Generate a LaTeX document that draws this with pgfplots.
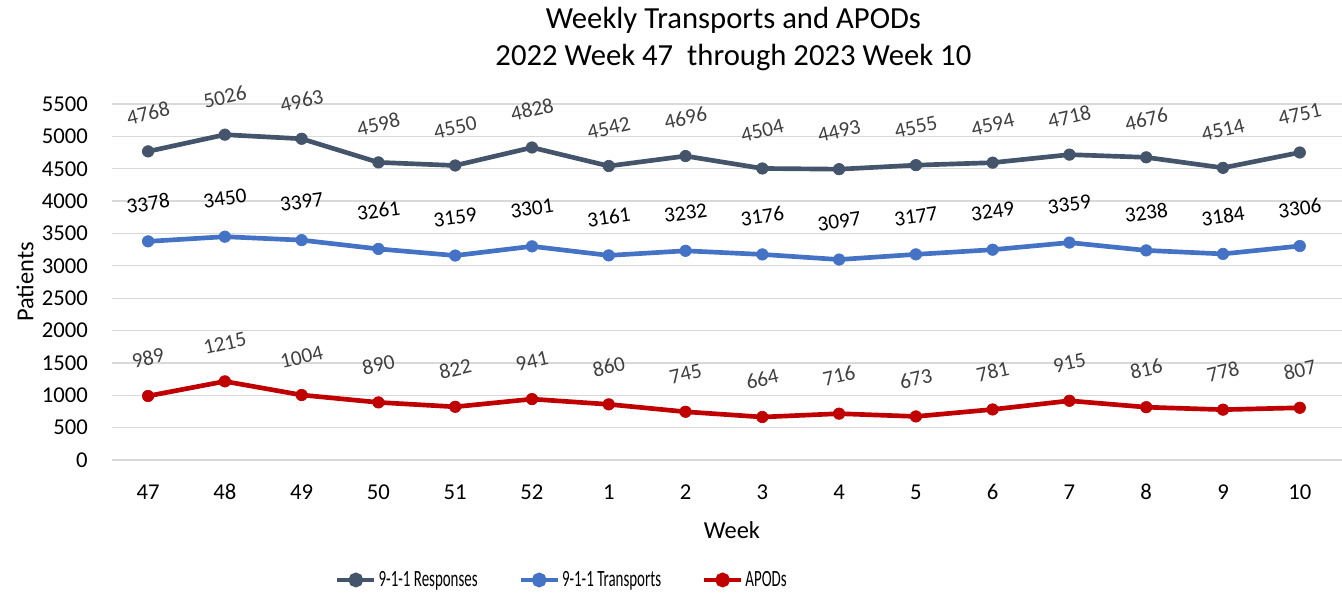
\documentclass[border=0pt]{standalone}
\usepackage{fontspec}
\setmainfont{Carlito}
\newfontfamily\legfont[FakeStretch=0.64]{Carlito}
\usepackage{pgfplots}
\pgfplotsset{compat=1.18}
\definecolor{resp}{HTML}{44546A}
\definecolor{trans}{HTML}{4472C4}
\definecolor{apod}{HTML}{C00000}
\definecolor{lbl}{HTML}{404040}
\definecolor{gridc}{HTML}{D9D9D9}
\begin{document}
\begin{tikzpicture}
\useasboundingbox (-84pt,-102.75pt) rectangle (922.5pt,345pt);
\begin{axis}[
  scale only axis, width=922.5pt, height=267pt,
  at={(0pt,0pt)}, anchor=south west,
  xmin=-0.47, xmax=15.55, ymin=0, ymax=5500,
  clip=false,
  xtick={0,...,15},
  xticklabels={47,48,49,50,51,52,1,2,3,4,5,6,7,8,9,10},
  ytick={0,500,...,5500},
  /pgf/number format/assume math mode=true,
  /pgf/number format/1000 sep={},
  ymajorgrids, major grid style={gridc, line width=0.9pt},
  axis line style={draw=none}, major tick style={draw=none},
  tick label style={font=\fontsize{17}{20}\selectfont, text=black},
  x tick label style={anchor=center, yshift=-24pt},
  y tick label style={anchor=east, inner sep=0pt, xshift=-18pt},
  xlabel={Week}, ylabel={Patients},
  label style={font=\fontsize{18.3}{21}\selectfont},
  xlabel style={at={(axis description cs:0.504,0)}, anchor=center, yshift=-52.5pt},
  ylabel style={at={(axis description cs:-0.0707,0.5)}, anchor=center},
  legend columns=3,
  legend style={draw=none, inner sep=0pt, outer sep=0pt, anchor=west,
    at={(axis description cs:0.1813,-0.337)},
    font=\legfont\fontsize{17.5}{20}\selectfont,
    nodes={inner sep=1.5pt},
    /tikz/every even column/.append style={column sep=29pt}},
  legend image code/.code={%
    \draw[#1, mark=none] (0pt,0pt) -- (27.75pt,0pt);
    \fill[#1] (13.9pt,0pt) circle (3.75pt);},
  every axis plot/.append style={line width=3.5pt, mark=*, mark size=4.3pt,
    mark options={solid, line width=0.5pt}},
  nodes near coords,
  nodes near coords style={font=\fontsize{16}{19}\selectfont, anchor=center, inner sep=0pt},
]
\addplot[resp, every node near coord/.append style={text=lbl, yshift=28.5pt, rotate=13}] coordinates {
(0,4768) (1,5026) (2,4963) (3,4598) (4,4550) (5,4828) (6,4542) (7,4696)
(8,4504) (9,4493) (10,4555) (11,4594) (12,4718) (13,4676) (14,4514) (15,4751)};
\addlegendentry{9-1-1 Responses}
\addplot[trans, every node near coord/.append style={text=black, yshift=28.5pt, rotate=8}] coordinates {
(0,3378) (1,3450) (2,3397) (3,3261) (4,3159) (5,3301) (6,3161) (7,3232)
(8,3176) (9,3097) (10,3177) (11,3249) (12,3359) (13,3238) (14,3184) (15,3306)};
\addlegendentry{9-1-1 Transports}
\addplot[apod, every node near coord/.append style={text=lbl, yshift=28.5pt, rotate=13}] coordinates {
(0,989) (1,1215) (2,1004) (3,890) (4,822) (5,941) (6,860) (7,745)
(8,664) (9,716) (10,673) (11,781) (12,915) (13,816) (14,778) (15,807)};
\addlegendentry{APODs}
\end{axis}
\node[align=center, font=\fontsize{23}{27.75}\selectfont, text=black] at (466pt,316pt)
  {Weekly Transports and APODs\\2022 Week 47\ \ through 2023 Week 10};
\end{tikzpicture}
\end{document}
